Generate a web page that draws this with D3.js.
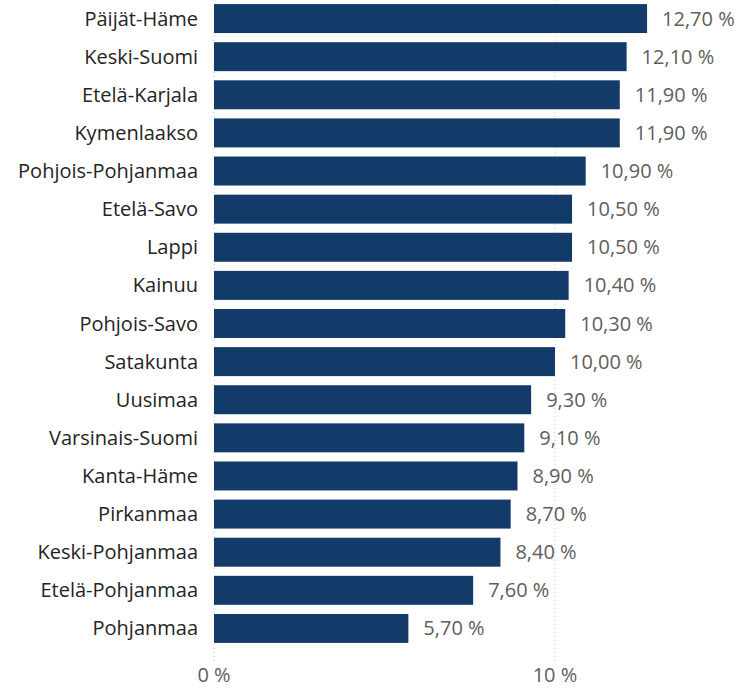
<!DOCTYPE html>
<html><head><meta charset="utf-8">
<script src="https://cdn.jsdelivr.net/npm/d3@7"></script>
<style>body{margin:0;background:#fff;}svg{display:block;font-family:"Segoe UI","Open Sans","Noto Sans",sans-serif;}</style>
</head><body>
<svg id="c" width="738" height="688"></svg>
<script>
const regions = ["Päijät-Häme","Keski-Suomi","Etelä-Karjala","Kymenlaakso","Pohjois-Pohjanmaa","Etelä-Savo","Lappi","Kainuu","Pohjois-Savo","Satakunta","Uusimaa","Varsinais-Suomi","Kanta-Häme","Pirkanmaa","Keski-Pohjanmaa","Etelä-Pohjanmaa","Pohjanmaa"];
const values = [12.7,12.1,11.9,11.9,10.9,10.5,10.5,10.4,10.3,10.0,9.3,9.1,8.9,8.7,8.4,7.6,5.7];
const ticks = [0,10];

const svg = d3.select("#c");
const x = d3.scaleLinear().domain([0,10]).range([214,555]);
const y = d3.scaleBand().domain(regions).range([-0.5,647.5]).paddingInner(0.24).paddingOuter(0.12);
const fmt = v => v.toFixed(2).replace(".",",") + " %";

svg.append("g").selectAll("line").data(ticks).join("line")
  .attr("x1",d=>x(d)).attr("x2",d=>x(d)).attr("y1",0).attr("y2",662)
  .attr("stroke","#c8c8c8").attr("stroke-width",1).attr("stroke-dasharray","1,3");

svg.append("g").selectAll("rect").data(values).join("rect")
  .attr("x",x(0)).attr("y",(d,i)=>y(regions[i]))
  .attr("width",d=>x(d)-x(0)).attr("height",y.bandwidth())
  .attr("fill","#123b69");

svg.append("g").selectAll("text").data(regions).join("text")
  .attr("x",198).attr("y",d=>y(d)+y.bandwidth()/2).attr("dy","0.35em")
  .attr("text-anchor","end").attr("font-size",20).attr("fill","#252423").text(d=>d);

svg.append("g").selectAll("text").data(values).join("text")
  .attr("x",d=>x(d)+15).attr("y",(d,i)=>y(regions[i])+y.bandwidth()/2).attr("dy","0.35em")
  .attr("font-size",20).attr("fill","#605e5c").text(d=>fmt(d));

svg.append("g").selectAll("text").data(ticks).join("text")
  .attr("x",d=>x(d)).attr("y",675).attr("dy","0.35em").attr("text-anchor","middle")
  .attr("font-size",20).attr("fill","#605e5c").text(d=>d+" %");
</script>
</body></html>
